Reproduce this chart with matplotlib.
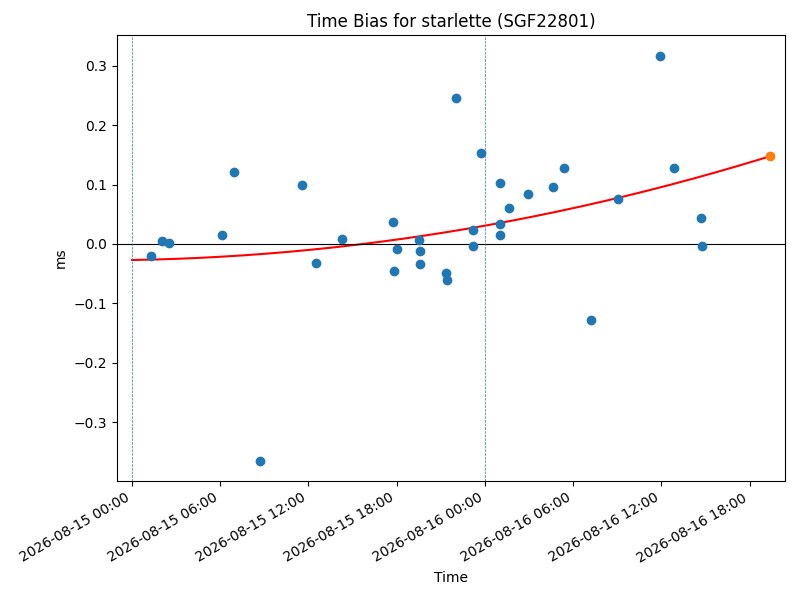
"""Time bias scatter with quadratic trend for one satellite."""
import numpy as np
import pandas as pd
import matplotlib
matplotlib.use("Agg")
import matplotlib.pyplot as plt
import matplotlib.dates as mdates

# ── DATA ────────────────────────────────────────────────────────────
TITLE = "Time Bias for starlette (SGF22801)"

obs_times = [
    "2026-08-15 01:19", "2026-08-15 02:02", "2026-08-15 02:32", "2026-08-15 06:08",
    "2026-08-15 06:57", "2026-08-15 08:41", "2026-08-15 11:35", "2026-08-15 12:32",
    "2026-08-15 14:18", "2026-08-15 17:46", "2026-08-15 17:50", "2026-08-15 18:02",
    "2026-08-15 19:30", "2026-08-15 19:36", "2026-08-15 19:36", "2026-08-15 21:22",
    "2026-08-15 21:25", "2026-08-15 22:02", "2026-08-15 23:12", "2026-08-15 23:12",
    "2026-08-15 23:45", "2026-08-16 01:01", "2026-08-16 01:01", "2026-08-16 01:01",
    "2026-08-16 01:39", "2026-08-16 02:57", "2026-08-16 04:39", "2026-08-16 05:24",
    "2026-08-16 07:12", "2026-08-16 09:04", "2026-08-16 11:54", "2026-08-16 12:52",
    "2026-08-16 14:42", "2026-08-16 14:46",
]
obs_bias_ms = [
    -0.021, 0.005, 0.001, 0.015,
    0.121, -0.366, 0.099, -0.032,
    0.008, 0.037, -0.045, -0.009,
    0.007, -0.012, -0.034, -0.049,
    -0.061, 0.246, 0.024, -0.004,
    0.153, 0.102, 0.033, 0.015,
    0.060, 0.084, 0.096, 0.128,
    -0.128, 0.075, 0.316, 0.128,
    0.044, -0.004,
]

pred_time = "2026-08-16 19:23"
pred_bias_ms = 0.148

# quadratic trend (days since start -> ms), highest power first
trend_start = "2026-08-15 00:00"
trend_coeffs = [0.0481, 0.0098, -0.027]

day_marks = ["2026-08-15 00:00", "2026-08-16 00:00"]
x_limits = ["2026-08-14 22:59", "2026-08-16 20:24"]
y_limits = (-0.3994, 0.3522)
# ────────────────────────────────────────────────────────────────────


def main():
    t_obs = pd.to_datetime(obs_times)
    t_pred = pd.to_datetime(pred_time)
    t0 = pd.to_datetime(trend_start)

    # trend evaluated from start to predicted epoch
    t_fit = pd.date_range(t0, t_pred, periods=200)
    days = (t_fit - t0).total_seconds() / 86400.0
    y_fit = np.polyval(trend_coeffs, days)

    fig, ax = plt.subplots(figsize=(8, 6), dpi=100)

    ax.scatter(t_obs, obs_bias_ms, color="C0", zorder=3)
    ax.plot(t_fit, y_fit, color="red", lw=1.5, zorder=2)
    ax.scatter([t_pred], [pred_bias_ms], color="C1", zorder=4)

    ax.axhline(0, color="black", lw=0.8)
    for d in pd.to_datetime(day_marks):
        ax.axvline(d, color="C0", linestyle="--", lw=0.5)

    ax.set_xlim(pd.to_datetime(x_limits[0]), pd.to_datetime(x_limits[1]))
    ax.set_ylim(*y_limits)
    ax.xaxis.set_major_locator(mdates.HourLocator(byhour=[0, 6, 12, 18]))
    ax.xaxis.set_major_formatter(mdates.DateFormatter("%Y-%m-%d %H:%M"))

    ax.set_title(TITLE)
    ax.set_xlabel("Time")
    ax.set_ylabel("ms")
    fig.autofmt_xdate()

    fig.subplots_adjust(left=0.14625, right=0.98125, top=0.94167, bottom=0.19833)
    plt.savefig("out.png", dpi=100)
    plt.close()


if __name__ == "__main__":
    main()
